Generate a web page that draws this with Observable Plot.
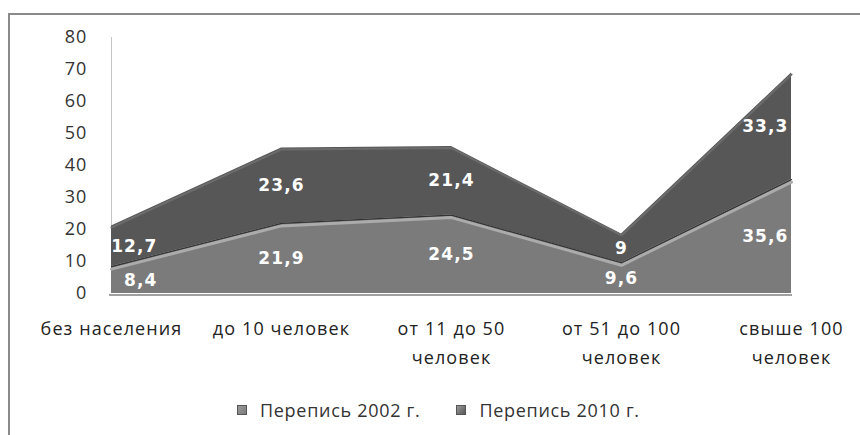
<!DOCTYPE html>
<html>
<head>
<meta charset="utf-8">
<script src="https://cdn.jsdelivr.net/npm/d3@7"></script>
<script src="https://cdn.jsdelivr.net/npm/@observablehq/plot@0.6"></script>
<style>
  body { margin: 0; width: 860px; height: 435px; overflow: hidden; position: relative; background: #fff; font-family: "Open Sans", sans-serif; }
  #frame { position: absolute; left: 8px; top: 13px; width: 900px; height: 500px; border: 2px solid #8a8a8a; box-sizing: border-box; }
  #chart { position: absolute; left: 0; top: 0; }
  #legend { position: absolute; top: 398px; left: 237px; display: flex; align-items: center; gap: 36px; font-size: 18px; color: #333; letter-spacing: 0.7px; }
  .item { display: flex; align-items: center; }
  .sw { width: 10px; height: 10px; margin-right: 13px; border: 1px solid #555; box-sizing: border-box; }
</style>
</head>
<body>
<div id="frame"></div>
<div id="chart"></div>
<div id="legend"></div>
<script>
const categories = ["без населения", "до 10 человек", "от 11 до 50 человек", "от 51 до 100 человек", "свыше 100 человек"];
const tickLabels = ["без населения", "до 10 человек", "от 11 до 50\nчеловек", "от 51 до 100\nчеловек", "свыше 100\nчеловек"];
const series = ["Перепись 2002 г.", "Перепись 2010 г."];
const values2002 = [8.4, 21.9, 24.5, 9.6, 35.6];
const values2010 = [12.7, 23.6, 21.4, 9, 33.3];
const yTicks = [0, 10, 20, 30, 40, 50, 60, 70, 80];
const seriesColors = ["#7b7b7b", "#575757"];

const data = categories.flatMap((c, i) => [
  {cat: c, series: series[0], value: values2002[i], idx: i},
  {cat: c, series: series[1], value: values2010[i], idx: i}
]);
const fmt = v => String(v).replace(".", ",");
const last = categories.length - 1;

const labelStyle = {fill: "white", fontWeight: "bold", fontSize: 17, fontFamily: "DejaVu Sans"};

const chart = Plot.plot({
  width: 860,
  height: 372,
  marginLeft: 109,
  marginRight: 68,
  marginTop: 37,
  marginBottom: 79,
  style: {fontFamily: "Open Sans", fontSize: "18px", color: "#333", letterSpacing: "1.1px"},
  x: {type: "point", domain: categories, padding: 0},
  y: {domain: [0, 80]},
  color: {domain: series, range: seriesColors},
  marks: [
    Plot.ruleX([categories[0]], {y1: 0, y2: 80, stroke: "#c4c4c4"}),
    Plot.ruleY([0], {stroke: "#a0a0a0", strokeWidth: 2, dy: 1.5}),
    Plot.areaY(data, {x: "cat", y: "value", z: "series", fill: "series"}),
    Plot.lineY(data, Plot.groupX({y: "sum"}, {x: "cat", y: "value", stroke: "#6c6c6c", strokeWidth: 2, dy: 1.5})),
    Plot.lineY(data, {filter: d => d.series === series[0], x: "cat", y: "value", stroke: "#ababab", strokeWidth: 3, dy: 2.5}),
    Plot.lineY(data, {filter: d => d.series === series[0], x: "cat", y: "value", stroke: "#333", strokeWidth: 1.2}),
    Plot.text(data, Plot.stackY({filter: d => d.idx > 0 && d.idx < last, x: "cat", y: "value", z: "series", text: d => fmt(d.value), ...labelStyle})),
    Plot.text(data, Plot.stackY({filter: d => d.idx === 0, x: "cat", y: "value", z: "series", text: d => fmt(d.value), textAnchor: "end", dx: 46, ...labelStyle})),
    Plot.text(data, Plot.stackY({filter: d => d.idx === last, x: "cat", y: "value", z: "series", text: d => fmt(d.value), textAnchor: "end", dx: -3, ...labelStyle})),
    Plot.axisY({ticks: yTicks, tickSize: 0, tickPadding: 22, label: null, fill: "#333"}),
    Plot.axisX({tickSize: 0, tickPadding: 21, label: null, lineHeight: 1.6, fill: "#222", tickFormat: d => tickLabels[categories.indexOf(d)]})
  ]
});
document.getElementById("chart").appendChild(chart);

const legend = document.getElementById("legend");
series.forEach((s, i) => {
  const item = document.createElement("div");
  item.className = "item";
  const sw = document.createElement("span");
  sw.className = "sw";
  sw.style.background = `linear-gradient(135deg, #9a9a9a, ${seriesColors[i]})`;
  const t = document.createElement("span");
  t.textContent = s;
  item.appendChild(sw);
  item.appendChild(t);
  legend.appendChild(item);
});
</script>
</body>
</html>
